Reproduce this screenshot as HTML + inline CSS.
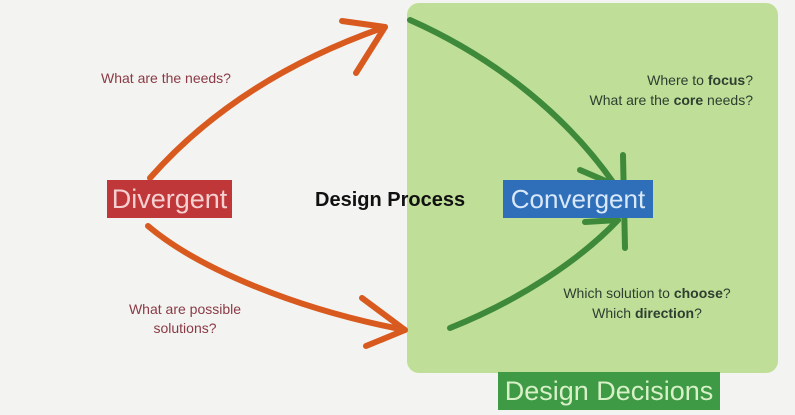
<!DOCTYPE html>
<html><head><style>
body{margin:0;width:795px;height:415px;background:#f3f3f1;position:relative;overflow:hidden;font-family:"Liberation Sans",sans-serif}
.abs{position:absolute}
</style></head><body>
<div class="abs" style="left:407px;top:3px;width:371px;height:370px;background:#bfdf98;border-radius:12px"></div>
<div class="abs" style="left:498px;top:372px;width:222px;height:38px;background:#3e9a44;color:#d8f0c8;font-size:27px;line-height:38px;text-align:center;white-space:nowrap">Design Decisions</div>
<svg class="abs" style="left:0;top:0" width="795" height="415">
<g fill="none" stroke="#d95a1e" stroke-width="6" stroke-linecap="round" stroke-linejoin="round">
<path d="M150 178 C210 110 290 60 385 27"/>
<path d="M342 21 L385 27 L356 73"/>
<path d="M148 226 C200 270 300 310 405 330"/>
<path d="M362 298 L405 330 L366 346"/>
</g>
<g fill="none" stroke="#3e8a3a" stroke-width="6" stroke-linecap="round" stroke-linejoin="round">
<path d="M410 20 C500 60 570 120 615 185"/>
<path d="M450 328 C520 300 580 260 618 220"/>
<path d="M623 155 L625 248"/>
<path d="M580 170 L615 185"/>
<path d="M585 222 L618 220"/>
</g>
</svg>
<div class="abs" style="left:107px;top:180px;width:125px;height:38px;background:#c0373a;color:#f4d0d0;font-size:27px;line-height:38px;text-align:center;white-space:nowrap">Divergent</div>
<div class="abs" style="left:503px;top:180px;width:150px;height:38px;background:#2f6fba;color:#d8e8f8;font-size:26px;line-height:38px;text-align:center;white-space:nowrap">Convergent</div>
<div class="abs" style="left:315px;top:189px;font-size:20px;font-weight:bold;color:#111;white-space:nowrap">Design Process</div>
<div class="abs" style="left:101px;top:70px;font-size:14px;color:#8a3a45">What are the needs?</div>
<div class="abs" style="left:110px;top:300px;width:150px;font-size:14px;color:#8a3a45;text-align:center;line-height:19px">What are possible<br>solutions?</div>
<div class="abs" style="left:540px;top:70px;width:213px;font-size:14px;color:#2e3e30;text-align:right;line-height:20px">Where to <b>focus</b>?<br>What are the <b>core</b> needs?</div>
<div class="abs" style="left:538px;top:283px;width:218px;font-size:14px;color:#2e3e30;text-align:center;line-height:20px">Which solution to <b>choose</b>?<br>Which <b>direction</b>?</div>
</body></html>
